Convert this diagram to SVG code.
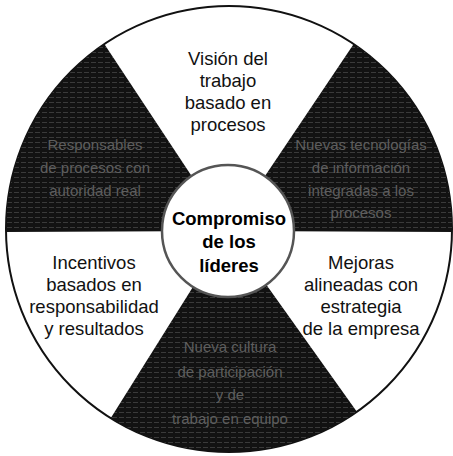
<svg xmlns="http://www.w3.org/2000/svg" width="453" height="456" viewBox="0 0 453 456">
  <style>
    .lbl { font-family: "Liberation Sans", Arial, sans-serif; font-size: 18.5px; fill: #111; text-anchor: middle; }
    .dk { font-family: "Liberation Sans", Arial, sans-serif; font-size: 15px; fill: #5e5e5e; text-anchor: middle; }
    .ctr { font-family: "Liberation Sans", Arial, sans-serif; font-size: 18.5px; font-weight: bold; fill: #000; text-anchor: middle; }
    .dark { fill: url(#scan); }
  </style>
  <defs>
    <pattern id="scan" width="7" height="5" patternUnits="userSpaceOnUse">
      <rect width="7" height="5" fill="#121212"/>
      <rect x="0" y="2" width="5" height="1" fill="#3a3a3a"/>
    </pattern>
  </defs>
  <rect width="453" height="456" fill="#fff"/>
  <g id="wheel">
    <circle cx="229" cy="229" r="223" fill="#fff" stroke="#111" stroke-width="2"/>
  </g>
  <g id="seg-top">
    <text class="lbl" x="228" y="65">Visión del</text>
    <text class="lbl" x="228" y="87">trabajo</text>
    <text class="lbl" x="228" y="109">basado en</text>
    <text class="lbl" x="228" y="131">procesos</text>
  </g>
  <g id="seg-top-right">
    <path class="dark" d="M228,231 L353.7,44.1 A223,223 0 0 1 452,232 Z"/>
    <text class="dk" x="361" y="150">Nuevas tecnologías</text>
    <text class="dk" x="361" y="173">de información</text>
    <text class="dk" x="361" y="196">integradas a los</text>
    <text class="dk" x="361" y="218">procesos</text>
  </g>
  <g id="seg-bottom-right">
    <text class="lbl" x="361" y="269">Mejoras</text>
    <text class="lbl" x="361" y="291">alineadas con</text>
    <text class="lbl" x="361" y="313">estrategia</text>
    <text class="lbl" x="361" y="335">de la empresa</text>
  </g>
  <g id="seg-bottom">
    <path class="dark" d="M228,231 L356.9,411.7 A223,223 0 0 1 110.8,418.1 Z"/>
    <text class="dk" x="230" y="352">Nueva cultura</text>
    <text class="dk" x="230" y="377">de participación</text>
    <text class="dk" x="230" y="400">y de</text>
    <text class="dk" x="230" y="424">trabajo en equipo</text>
  </g>
  <g id="seg-bottom-left">
    <text class="lbl" x="94" y="269">Incentivos</text>
    <text class="lbl" x="94" y="291">basados en</text>
    <text class="lbl" x="94" y="313">responsabilidad</text>
    <text class="lbl" x="94" y="335">y resultados</text>
  </g>
  <g id="seg-top-left">
    <path class="dark" d="M228,231 L6,232 A223,223 0 0 1 104.3,44.1 Z"/>
    <text class="dk" x="95" y="150">Responsables</text>
    <text class="dk" x="95" y="173">de procesos con</text>
    <text class="dk" x="95" y="196">autoridad real</text>
  </g>
  <g id="center">
    <circle cx="228" cy="231" r="66" fill="#fff" stroke="#555" stroke-width="2.5"/>
    <text class="ctr" x="229" y="225">Compromiso</text>
    <text class="ctr" x="229" y="248">de los</text>
    <text class="ctr" x="229" y="272">líderes</text>
  </g>
</svg>
